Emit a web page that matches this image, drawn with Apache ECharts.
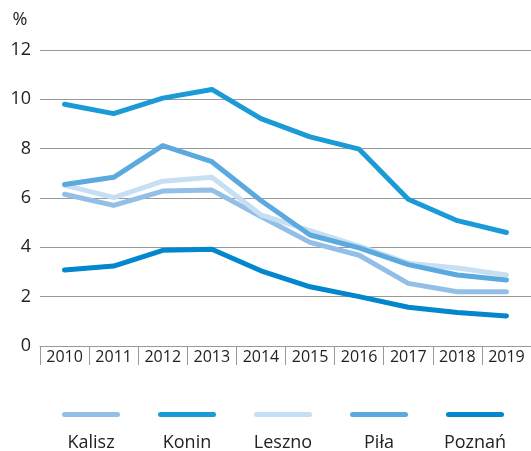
<!DOCTYPE html>
<html lang="pl">

<head>
    <meta charset="UTF-8">
    <title>Stopa bezrobocia</title>
    <script src="https://cdn.jsdelivr.net/npm/echarts@6/dist/echarts.min.js"></script>
    <style>
        html, body { margin: 0; padding: 0; background: #fff; }
    </style>
</head>

<body>
    <div id="main" style="width: 531px; height: 451px;"></div>

    <script>
        var chart = echarts.init(document.getElementById('main'));

        // dane (%)
        var years = ['2010', '2011', '2012', '2013', '2014', '2015', '2016', '2017', '2018', '2019'];
        var names = ['Kalisz', 'Konin', 'Leszno', 'Piła', 'Poznań'];
        var kalisz = [6.15, 5.7, 6.28, 6.32, 5.25, 4.2, 3.68, 2.54, 2.2, 2.2];
        var konin = [9.8, 9.42, 10.05, 10.4, 9.22, 8.48, 7.98, 5.95, 5.08, 4.6];
        var leszno = [6.52, 6.02, 6.68, 6.84, 5.32, 4.68, 4.05, 3.36, 3.16, 2.88];
        var pila = [6.55, 6.84, 8.12, 7.47, 5.9, 4.5, 3.98, 3.3, 2.88, 2.68];
        var poznan = [3.08, 3.24, 3.88, 3.92, 3.05, 2.4, 2.0, 1.57, 1.36, 1.22];
        var yTicks = { min: 0, max: 12, interval: 2 };

        var colors = ['#93bfe7', '#1a9bd7', '#c7dff3', '#5aa9df', '#0287cf'];
        var values = [kalisz, konin, leszno, pila, poznan];
        var font = '"Open Sans", sans-serif';

        var series = names.map(function (n, i) {
            return {
                name: n,
                type: 'line',
                data: values[i],
                symbol: 'none',
                silent: true,
                lineStyle: { width: 5, color: colors[i], cap: 'round', join: 'round' },
                itemStyle: { color: colors[i] }
            };
        });

        // legenda: linie jako ikony, podpisy pod nimi
        var legendLeft = 62, legendStep = 96, legendW = 58;
        var legends = names.map(function (n, i) {
            return {
                data: [n],
                left: legendLeft - 5 + i * legendStep,   // -5: padding legendy
                top: 407,
                itemWidth: legendW,
                itemHeight: 5,
                icon: 'path://M2.5,0 H55.5 A2.5,2.5 0 0 1 55.5,5 H2.5 A2.5,2.5 0 0 1 2.5,0 Z',
                formatter: function () { return ''; },
                selectedMode: false
            };
        });
        var labels = names.map(function (n, i) {
            return {
                type: 'text',
                x: legendLeft + i * legendStep + legendW / 2,
                y: 443,
                style: {
                    text: n,
                    fill: '#222',
                    font: '18px ' + font,
                    textAlign: 'center',
                    textVerticalAlign: 'middle'
                }
            };
        });

        var option = {
            animation: false,
            textStyle: { fontFamily: font },
            grid: { left: 40, right: 0, top: 50, bottom: 105 },
            legend: legends,
            graphic: labels,
            xAxis: {
                type: 'category',
                data: years,
                boundaryGap: true,
                axisLine: { lineStyle: { color: '#999', width: 1 } },
                axisTick: { show: true, length: 19, interval: 0, lineStyle: { color: '#999' } },
                axisLabel: { color: '#222', fontSize: 16, margin: 3, interval: 0 },
                splitLine: { show: false }
            },
            yAxis: {
                type: 'value',
                min: yTicks.min,
                max: yTicks.max,
                interval: yTicks.interval,
                name: '%',
                nameLocation: 'end',
                nameGap: 21,
                nameTextStyle: { color: '#222', fontSize: 18, align: 'center', padding: [0, 40, 0, 0] },
                axisLine: { show: false },
                axisTick: { show: false },
                axisLabel: { color: '#222', fontSize: 18, margin: 9 },
                splitLine: { lineStyle: { color: '#999', width: 1 } }
            },
            series: series
        };

        chart.setOption(option);
    </script>

</body>

</html>
